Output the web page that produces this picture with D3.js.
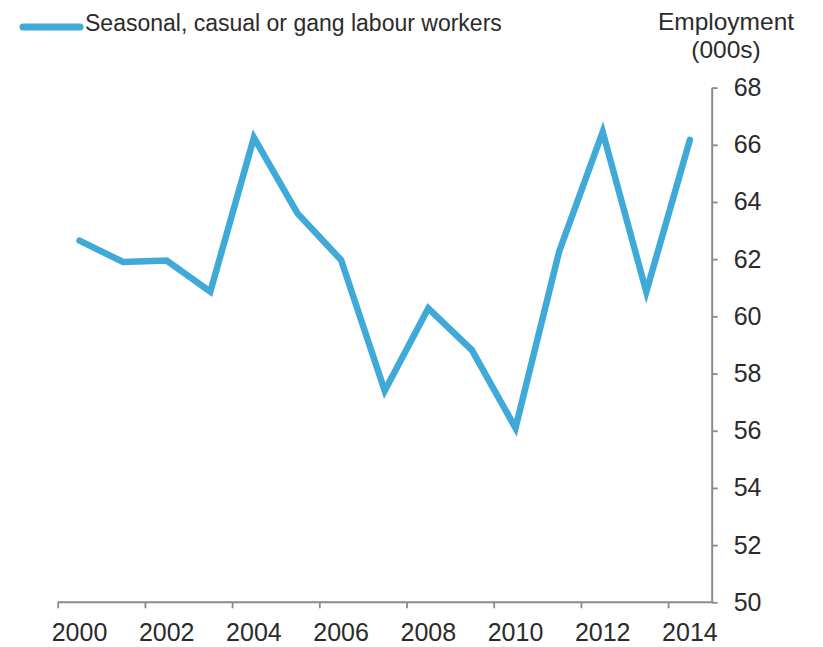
<!DOCTYPE html>
<html>
<head>
<meta charset="utf-8">
<script src="https://cdn.jsdelivr.net/npm/d3@7"></script>
<style>
  html, body { margin: 0; padding: 0; background: #fff; }
  svg { display: block; font-family: "Liberation Sans", Arial, sans-serif; }
</style>
</head>
<body>
<svg id="chart" width="823" height="647"></svg>
<script>
const years = [2000, 2001, 2002, 2003, 2004, 2005, 2006, 2007, 2008, 2009, 2010, 2011, 2012, 2013, 2014];
const employment = [62.65, 61.9, 61.95, 60.86, 66.25, 63.6, 61.97, 57.4, 60.28, 58.82, 56.1, 62.26, 66.45, 60.86, 66.17];
const yTicks = [50, 52, 54, 56, 58, 60, 62, 64, 66, 68];
const xLabelYears = [2000, 2002, 2004, 2006, 2008, 2010, 2012, 2014];
const seriesName = "Seasonal, casual or gang labour workers";
const yTitle = ["Employment", "(000s)"];

(function () {
const svg = d3.select("#chart");
const mLeft = 57.7, mRight = 711.7, mTop = 87.6, mBottom = 602.3;
const lineColor = "#3fa9d7";
const axisColor = "#8a8a8a";
const textColor = "#2b2b2b";

const x = d3.scaleBand().domain(years).range([mLeft, mRight]).padding(0);
const xEdge = d3.scaleLinear().domain([2000, 2015]).range([mLeft, mRight]);
const y = d3.scaleLinear().domain([50, 68]).range([mBottom, mTop]);

// X axis: tick marks at year boundaries
const gxTicks = svg.append("g").attr("transform", `translate(0,${mBottom})`)
  .call(d3.axisBottom(xEdge).tickValues(xLabelYears).tickSize(6).tickSizeOuter(0).tickFormat(""));
gxTicks.select(".domain").remove();
gxTicks.selectAll("line").attr("stroke", axisColor).attr("stroke-width", 1.8);
svg.append("line").attr("x1", mLeft).attr("x2", mRight + 1).attr("y1", mBottom).attr("y2", mBottom)
  .attr("stroke", axisColor).attr("stroke-width", 2);

// X labels centered in bands
const gxLab = svg.append("g").attr("transform", `translate(0,${mBottom})`)
  .call(d3.axisBottom(x).tickValues(xLabelYears).tickSize(0).tickPadding(21).tickFormat(d3.format("d")));
gxLab.select(".domain").remove();
gxLab.selectAll("text").attr("font-size", 25).attr("fill", textColor)
  .attr("font-family", "Liberation Sans, Arial, sans-serif");

// Y axis on right
const gy = svg.append("g").attr("transform", `translate(${mRight},0)`)
  .call(d3.axisRight(y).tickValues(yTicks).tickSize(6).tickSizeOuter(0).tickPadding(16));
gy.select(".domain").attr("stroke", axisColor).attr("stroke-width", 2);
gy.selectAll("line").attr("stroke", axisColor).attr("stroke-width", 1.8);
gy.selectAll("text").attr("font-size", 25).attr("fill", textColor)
  .attr("font-family", "Liberation Sans, Arial, sans-serif");

// Y title
svg.append("text").attr("x", 726).attr("y", 30).attr("text-anchor", "middle")
  .attr("font-size", 24.5).attr("fill", textColor).text(yTitle[0]);
svg.append("text").attr("x", 726).attr("y", 58).attr("text-anchor", "middle")
  .attr("font-size", 24.5).attr("fill", textColor).text(yTitle[1]);

// Line
const line = d3.line()
  .x((d, i) => x(years[i]) + x.bandwidth() / 2)
  .y(d => y(d));
svg.append("path").datum(employment)
  .attr("d", line)
  .attr("fill", "none")
  .attr("stroke", lineColor)
  .attr("stroke-width", 6.5)
  .attr("stroke-linejoin", "miter")
  .attr("stroke-linecap", "round");

// Legend
svg.append("line").attr("x1", 23).attr("x2", 80).attr("y1", 27).attr("y2", 27)
  .attr("stroke", lineColor).attr("stroke-width", 7).attr("stroke-linecap", "round");
svg.append("text").attr("x", 85).attr("y", 31).attr("font-size", 23)
  .attr("fill", textColor).text(seriesName);
})();
</script>
</body>
</html>
